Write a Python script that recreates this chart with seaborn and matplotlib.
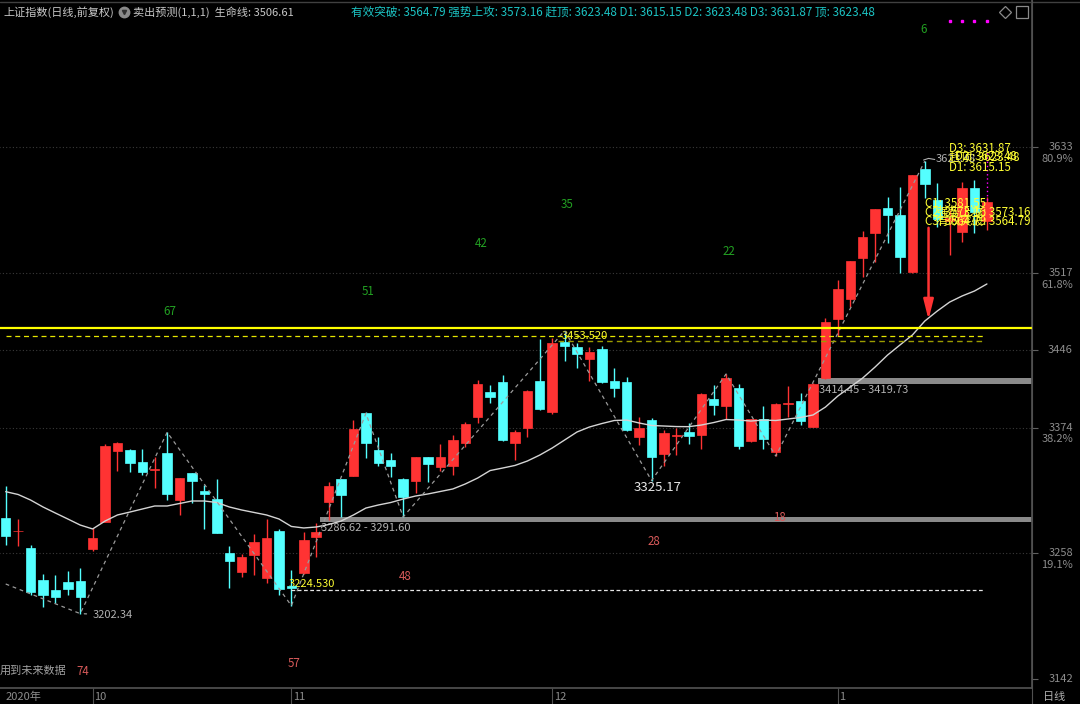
import numpy as np
import pandas as pd
import matplotlib
matplotlib.use('Agg')
import matplotlib.pyplot as plt
import matplotlib.transforms as mtransforms
from matplotlib.lines import Line2D
import seaborn as sns

# ---- daily candles (index 0 = last days of Sept 2020) ----
opens = [3290.3, 3278.2, 3262.6, 3233.4, 3224.2, 3231.8, 3232.8, 3261.7, 3287.2, 3352.7,
         3353.4, 3342.0, 3335.3, 3350.9, 3307.2, 3331.9, 3315.8, 3308.1, 3258.0, 3240.5,
         3256.4, 3235.5, 3278.6, 3228.1, 3240.1, 3273.3, 3305.6, 3326.3, 3329.6, 3387.2,
         3353.4, 3344.1, 3326.9, 3325.0, 3346.6, 3337.4, 3338.9, 3359.5, 3383.5, 3407.2,
         3416.4, 3359.5, 3373.4, 3417.4, 3388.7, 3453.3, 3448.1, 3437.1, 3446.3, 3417.3,
         3415.8, 3365.6, 3381.0, 3349.4, 3366.6, 3370.2, 3367.2, 3400.4, 3394.0, 3410.3,
         3362.0, 3381.7, 3351.8, 3396.2, 3398.6, 3374.9, 3419.5, 3474.3, 3492.4, 3530.8,
         3553.4, 3577.0, 3570.2, 3517.9, 3612.4, 3584.1, 3564.7, 3554.8, 3594.9, 3565.0]
highs = [3320.1, 3289.4, 3265.4, 3238.9, 3238.0, 3241.9, 3244.7, 3281.1, 3358.6, 3361.0,
         3354.0, 3354.0, 3346.6, 3369.7, 3327.5, 3332.4, 3321.1, 3326.3, 3264.8, 3257.1,
         3275.8, 3289.7, 3280.2, 3242.6, 3278.0, 3285.7, 3324.1, 3327.0, 3381.0, 3388.0,
         3365.1, 3350.3, 3327.5, 3347.0, 3347.0, 3358.9, 3367.2, 3379.5, 3418.0, 3413.4,
         3422.6, 3371.8, 3408.5, 3455.8, 3456.4, 3463.5, 3451.8, 3448.7, 3449.3, 3428.8,
         3421.0, 3384.1, 3382.6, 3371.8, 3373.4, 3378.0, 3405.7, 3413.4, 3423.5, 3414.3,
         3382.0, 3394.0, 3396.5, 3412.4, 3406.2, 3414.9, 3474.9, 3510.3, 3528.0, 3555.8,
         3575.8, 3587.1, 3596.4, 3607.5, 3620.0, 3599.5, 3574.9, 3601.0, 3602.5, 3587.1]
lows = [3265.4, 3264.8, 3219.6, 3208.2, 3212.4, 3219.6, 3202.3, 3260.4, 3286.6, 3334.0,
        3332.8, 3330.3, 3318.6, 3307.2, 3293.4, 3304.2, 3280.4, 3276.5, 3226.3, 3235.9,
        3238.0, 3230.3, 3219.6, 3209.7, 3238.9, 3254.9, 3288.8, 3291.8, 3329.0, 3345.7,
        3338.6, 3328.7, 3291.6, 3313.4, 3323.6, 3334.3, 3330.3, 3356.4, 3378.0, 3396.5,
        3362.0, 3344.1, 3365.1, 3390.0, 3386.6, 3435.8, 3428.8, 3417.3, 3414.9, 3402.6,
        3371.0, 3358.0, 3325.2, 3338.9, 3348.7, 3358.9, 3354.0, 3385.7, 3381.7, 3354.0,
        3361.0, 3354.0, 3347.8, 3384.1, 3376.4, 3374.3, 3419.0, 3458.6, 3485.1, 3512.7,
        3527.1, 3544.7, 3517.0, 3517.0, 3585.7, 3559.4, 3533.3, 3545.6, 3553.9, 3556.4]
closes = [3274.0, 3278.8, 3222.6, 3219.6, 3218.0, 3224.8, 3218.0, 3271.9, 3357.3, 3359.5,
          3341.1, 3332.8, 3335.8, 3312.8, 3327.2, 3324.7, 3312.8, 3277.0, 3250.9, 3254.3,
          3268.7, 3272.4, 3224.8, 3225.7, 3270.3, 3277.4, 3320.1, 3311.8, 3372.7, 3359.5,
          3341.6, 3338.6, 3309.7, 3346.6, 3340.2, 3346.6, 3362.6, 3377.4, 3414.3, 3402.6,
          3362.6, 3369.7, 3408.1, 3390.9, 3451.8, 3449.6, 3441.7, 3444.1, 3415.8, 3410.3,
          3371.8, 3373.4, 3347.2, 3368.8, 3367.4, 3366.6, 3405.0, 3394.9, 3420.1, 3357.1,
          3381.7, 3363.2, 3395.8, 3396.8, 3380.4, 3414.3, 3471.8, 3501.9, 3527.8, 3549.7,
          3575.5, 3570.2, 3531.8, 3607.2, 3598.6, 3566.3, 3567.5, 3594.9, 3573.3, 3582.5]
# 生命线 (white moving line)
life_line = [3314.9, 3312.3, 3307.2, 3300.8, 3295.2, 3289.7, 3284.1, 3280.5, 3287.8, 3293.4,
             3296.1, 3298.9, 3301.7, 3301.7, 3304.0, 3306.3, 3306.3, 3304.9, 3300.8, 3298.0,
             3295.7, 3293.4, 3289.7, 3282.8, 3281.4, 3282.3, 3284.6, 3287.8, 3293.4, 3299.8,
             3302.6, 3304.9, 3308.1, 3310.9, 3312.8, 3315.1, 3317.4, 3322.0, 3327.5, 3334.4,
             3336.7, 3339.1, 3343.2, 3348.7, 3355.2, 3362.6, 3370.0, 3374.6, 3377.8, 3380.6,
             3381.0, 3378.3, 3376.0, 3375.5, 3375.0, 3374.9, 3376.4, 3378.7, 3381.5, 3381.0,
             3380.1, 3381.0, 3380.6, 3382.0, 3383.4, 3385.7, 3393.0, 3403.2, 3411.5, 3419.8,
             3430.0, 3441.0, 3450.3, 3459.5, 3472.4, 3481.6, 3489.9, 3495.5, 3500.1, 3506.61]

# zigzag turning points and the wave counts written at them
zz_idx = [0, 6, 13, 23, 29, 32, 45, 52, 58, 62, 74]
zz_price = [3229.7, 3202.34, 3369.7, 3209.7, 3387.2, 3291.6, 3463.5, 3325.17, 3423.5, 3347.8, 3620.0]
green_counts = ['67', '51', '42', '35', '22', '6']
green_pos = [(13.2, 3481.6), (29.2, 3499.2), (38.3, 3544.4), (45.2, 3580.4), (58.2, 3537.0), (73.9, 3741.9)]
red_counts = ['74', '57', '48', '28', '18']
red_pos = [(6.2, 3148.5), (23.2, 3155.9), (32.2, 3236.2), (52.2, 3268.5), (62.3, 3291.5)]

month_idx = [7, 23, 44, 67]
month_labels = ['10', '11', '12', '1']
price_ticks = [3633, 3517, 3446, 3374, 3258, 3142]
fib_ticks = [3633, 3517, 3374, 3258]
fib_labels = ['80.9%', '61.8%', '38.2%', '19.1%']

df = pd.DataFrame({'i': np.arange(len(opens)), 'open': opens, 'high': highs,
                   'low': lows, 'close': closes, 'life': life_line})
df['up'] = df['close'] >= df['open']

RED = '#ff3333'
CYAN = '#54ffff'
GRAY = '#8c8c8c'
YEL = '#ffff33'

sns.set_theme(style='dark', rc={'axes.facecolor': 'black', 'figure.facecolor': 'black'})
plt.rcParams['font.family'] = ['Noto Sans CJK SC', 'DejaVu Sans']

fig = plt.figure(figsize=(10.8, 7.04), dpi=100)
ax = fig.add_axes([0, 16 / 704, 1032 / 1080, 688 / 704])
ax.set_xlim(-0.459, 82.63)
ax.set_ylim(3133.7, 3768.7)

# dotted price grid
ax.hlines(price_ticks[:-1], -1, 83, color='#3a3a3a', linestyles=(0, (1, 2)), lw=0.8, zorder=0)

# support bars
ax.fill_between([25.3, 83], 3286.62, 3291.60, color='#8a8a8a', lw=0, zorder=2)
ax.fill_between([65.4, 83], 3414.45, 3419.73, color='#8a8a8a', lw=0, zorder=2)

# candles
for up, col in [(True, RED), (False, CYAN)]:
    sub = df[df['up'] == up]
    ax.vlines(sub['i'], sub['low'], sub['high'], color=col, lw=1.0, zorder=3)
    body = (sub['close'] - sub['open']).abs().clip(lower=0.5)
    ax.bar(sub['i'], body, bottom=np.minimum(sub['open'], sub['close']), width=0.76,
           color=col, edgecolor=col, lw=0.5, zorder=4)

# life line and zigzag
sns.lineplot(data=df, x='i', y='life', color='#d4d4d4', lw=1.0, ax=ax, zorder=5)
ax.plot(zz_idx, zz_price, color='#9a9a9a', lw=0.9, ls=(0, (3, 3)), zorder=5)

# level lines
ax.hlines(3465.7, -1, 83, color='#ffff00', lw=1.6, zorder=6)
ax.hlines(3458.6, 0, 78.8, color='#e6e600', lw=0.9, linestyles=(0, (4, 3)), zorder=6)
ax.hlines(3453.52, 44.5, 78.8, color='#9c9c00', lw=1.0, linestyles=(0, (4, 3)), zorder=6)
ax.hlines(3224.53, 23, 78.8, color='#e6e6e6', lw=0.9, linestyles=(0, (3, 2)), zorder=6)
ax.vlines(79, 3584.1, 3630.2, color='#ff00ff', lw=1.0, linestyles=(0, (1, 2)), zorder=6)

# red arrow
ax.annotate('', xy=(74.3, 3471), xytext=(74.3, 3561),
            arrowprops=dict(arrowstyle='-|>,head_width=0.25,head_length=1.0', color=RED, lw=1.8),
            zorder=7)

# value labels
ax.annotate('3202.34', xy=(6.1, 3202.3), xytext=(7.0, 3201.0), color='#b0b0b0', fontsize=8,
            va='center', arrowprops=dict(arrowstyle='-', color='#b0b0b0', lw=0.8))
ax.text(52.5, 3318.5, '3325.17', color='#e8e8e8', fontsize=9.5, ha='center', va='center')
ax.text(25.4, 3281.3, '3286.62 - 3291.60', color='#b4b4b4', fontsize=8, va='center')
ax.text(65.5, 3408.7, '3414.45 - 3419.73', color='#b4b4b4', fontsize=8, va='center')
ax.text(22.8, 3230.0, '3224.530', color=YEL, fontsize=8, va='center')
ax.text(44.8, 3459.0, '3453.520', color=YEL, fontsize=8, va='center')
ax.text(74.9, 3622.0, '3623.48', color='#b0b0b0', fontsize=8, va='center')
ax.plot([73.9, 74.3, 74.8], [3621.0, 3622.5, 3621.5], color='#b0b0b0', lw=0.8, zorder=6)

# stacked target labels (they overlap in the source too)
for t, x, y in [('D3: 3631.87', 75.95, 3632.1), ('赶顶: 3623.48', 75.95, 3623.8),
                ('D2: 3623.48', 76.4, 3623.8), ('D1: 3615.15', 75.95, 3614.5),
                ('C1: 3581.55', 74.0, 3581.3), ('C2: 3573.16', 74.0, 3573.0),
                ('C3: 3564.79', 74.0, 3564.7), ('强势上攻: 3573.16', 75.0, 3573.0),
                ('有效突破: 3564.79', 75.0, 3564.7)]:
    ax.text(x, y, t, color=YEL, fontsize=8.3, va='center', zorder=8)

for t, (x, y) in zip(green_counts, green_pos):
    ax.text(x, y, t, color='#22a022', fontsize=8.3, ha='center', va='center')
for t, (x, y) in zip(red_counts, red_pos):
    ax.text(x, y, t, color='#d85a5a', fontsize=8.3, ha='center', va='center')

# magenta markers on top
top_tr = mtransforms.blended_transform_factory(ax.transData, ax.transAxes)
ax.plot([76, 77, 78, 79], [0.9695] * 4, ls='none', marker='s', ms=2, color='#ff00ff',
        transform=top_tr)

# axes frame
for s in ['top', 'left']:
    ax.spines[s].set_visible(False)
ax.spines['bottom'].set_color('#505050')
ax.spines['right'].set_color('#505050')
ax.yaxis.tick_right()
ax.set_yticks(price_ticks)
ax.set_yticklabels([])
ax.tick_params(axis='y', length=4, color='#606060', width=0.8, right=True)
ax.set_xticks(month_idx)
ax.set_xticklabels([])
ax.tick_params(axis='x', length=12, color='#505050', width=0.8, bottom=True, direction='out')
ax.set_xlabel('')
ax.set_ylabel('')
ax.grid(False)

ytr = mtransforms.blended_transform_factory(fig.transFigure, ax.transData)
for p in price_ticks:
    ax.text(1073 / 1080, p, str(p), transform=ytr, color=GRAY, fontsize=8, ha='right', va='center')
for p, lab in zip(fib_ticks, fib_labels):
    ax.annotate(lab, xy=(1073 / 1080, p), xycoords=ytr, xytext=(0, -8.5), textcoords='offset points',
                color=GRAY, fontsize=8, ha='right', va='center')

xtr = ax.get_xaxis_transform()
ax.text(-0.05, -0.0131, '2020年', transform=xtr, color=GRAY, fontsize=8, va='center', clip_on=False)
for m, lab in zip(month_idx, month_labels):
    ax.text(m + 0.12, -0.0131, lab, transform=xtr, color=GRAY, fontsize=8, va='center', clip_on=False)
fig.text(1043 / 1080, 1 - 697 / 704, '日线', color='#b0b0b0', fontsize=8, va='center')
fig.text(0, 1 - 671 / 704, '用到未来数据', color='#a0a0a0', fontsize=8, va='center')

# header
fig.add_artist(Line2D([0, 1], [1 - 2 / 704] * 2, color='#404040', lw=1))
fig.add_artist(Line2D([1032 / 1080] * 2, [0, 1], color='#505050', lw=0.8))
fig.text(3 / 1080, 1 - 12 / 704, '上证指数(日线,前复权)', color='#c8c8c8', fontsize=8, va='center')
fig.add_artist(Line2D([124 / 1080], [1 - 12 / 704], marker='o', ms=7.5, color='#8a8a8a', ls='none'))
fig.add_artist(Line2D([124 / 1080], [1 - 12 / 704], marker='v', ms=3, color='#303030', ls='none'))
fig.text(133 / 1080, 1 - 12 / 704, '卖出预测(1,1,1)  生命线: 3506.61', color='#c8c8c8', fontsize=8, va='center')
fig.text(351 / 1080, 1 - 12 / 704,
         '有效突破: 3564.79 强势上攻: 3573.16 赶顶: 3623.48 D1: 3615.15 D2: 3623.48 D3: 3631.87 顶: 3623.48',
         color='#1cc4c4', fontsize=8.4, va='center')
fig.add_artist(Line2D([1005 / 1080], [1 - 12 / 704], marker='D', ms=6, mfc='none', mec='#8a8a8a',
                      ls='none', mew=0.9))
fig.add_artist(Line2D([1022 / 1080], [1 - 12 / 704], marker='s', ms=8, mfc='none', mec='#8a8a8a',
                      ls='none', mew=0.9))

fig.savefig('out.png', dpi=100, facecolor='black')
